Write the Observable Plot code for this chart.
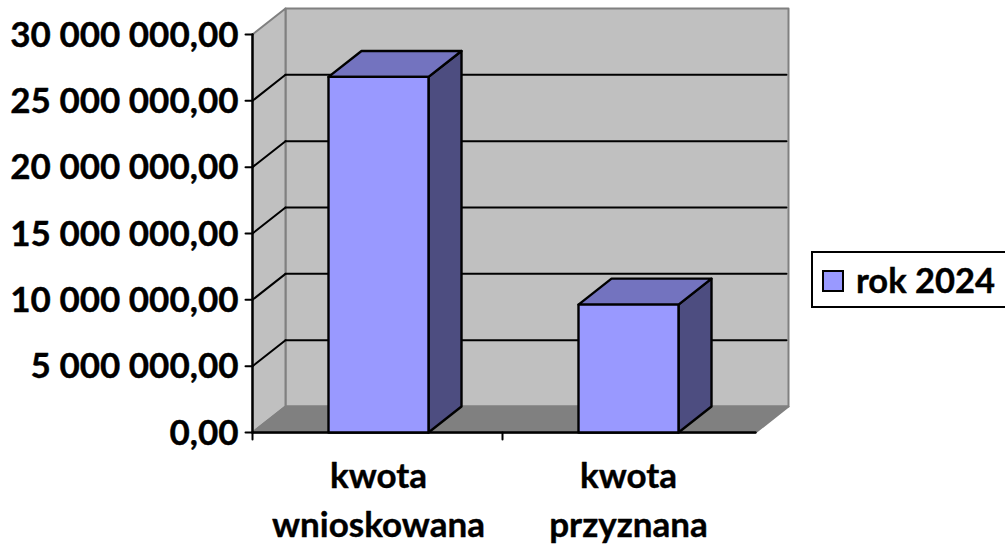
<!DOCTYPE html>
<html><head><meta charset="utf-8">
<script src="https://cdn.jsdelivr.net/npm/d3@7"></script>
<script src="https://cdn.jsdelivr.net/npm/@observablehq/plot@0.6"></script>
<style>
html,body{margin:0;padding:0;background:#fff;overflow:hidden}
#wrap{position:relative;width:1005px;height:550px}
#legend{position:absolute;left:811px;top:251px;width:210px;height:57px;border:2px solid #000;box-sizing:border-box;background:#fff;font:700 34.5px Lato,sans-serif;color:#000;-webkit-text-stroke:0.4px #000}
#legend i{position:absolute;left:9px;top:17px;width:22px;height:22px;background:#9999ff;border:2px solid #000;box-sizing:border-box}
#legend span{position:absolute;left:43px;top:9px;line-height:36px;white-space:nowrap}
</style></head><body>
<div id="wrap"><div id="chart"></div><div id="legend"><i></i><span>rok 2024</span></div></div>
<script>
const categories = ["kwota\nwnioskowana", "kwota\nprzyznana"];
const categoryPositions = [0.504, 1.504];
const values = [26800000, 9640000];
const yTicks = [0, 5000000, 10000000, 15000000, 20000000, 25000000, 30000000];
const gridValues = [5000000, 10000000, 15000000, 20000000, 25000000];
const xTicks = [0, 1];

// oblique depth of the pseudo-3D box, in data units
const depthX = 0.132, depthY = 1957000, barWidth = 0.4, xMax = 2.012, yMax = 30000000;
const tickX = 0.028, tickY = 527000;

const fmt = v => d3.format(",.2f")(v).replace(/,/g, " ").replace(".", ",");
const poly = (id, pts) => pts.map(([x, y]) => ({id, x, y}));

const floor = poly("f", [[0,0],[xMax,0],[xMax+depthX,depthY],[depthX,depthY]]);
const back = poly("b", [[depthX,depthY],[xMax+depthX,depthY],[xMax+depthX,yMax+depthY],[depthX,yMax+depthY]]);
const side = poly("s", [[0,0],[depthX,depthY],[depthX,yMax+depthY],[0,yMax]]);
const gridBack = gridValues.flatMap(v => poly("g"+v, [[depthX,v+depthY],[xMax+depthX-0.008,v+depthY]]));
const gridSide = gridValues.flatMap(v => poly("g"+v, [[0,v],[depthX,v+depthY]]));
const axisYLine = poly("ay", [[0,0],[0,yMax]]);
const axisXLine = poly("ax", [[0,0],[xMax,0]]);
const yTickLines = yTicks.flatMap(v => poly("t"+v, [[-tickX,v],[0,v]]));
const xTickLines = xTicks.flatMap(v => poly("x"+v, [[v,-tickY],[v,0]]));
const yLabels = yTicks.map(v => ({x:-tickX, y:v, label:fmt(v)}));
const xLabels = categories.map((label,i) => ({x:categoryPositions[i], y:0, label}));

const front = [], top_ = [], right = [];
values.forEach((v, i) => {
  const a = categoryPositions[i] - barWidth/2, b = categoryPositions[i] + barWidth/2;
  front.push(...poly(i, [[a,0],[b,0],[b,v],[a,v]]));
  top_.push(...poly(i, [[a,v],[b,v],[b+depthX,v+depthY],[a+depthX,v+depthY]]));
  right.push(...poly(i, [[b,0],[b+depthX,depthY],[b+depthX,v+depthY],[b,v]]));
});

const wall = {x:"x", y:"y", z:"id", curve:"linear-closed", strokeWidth:2};
const face = {x:"x", y:"y", z:"id", curve:"linear-closed", stroke:"#000", strokeWidth:2.4, strokeLinejoin:"round"};
const ln = {x:"x", y:"y", z:"id", stroke:"#000", strokeWidth:2};
const font = {fontFamily:"Lato, sans-serif", fontWeight:700, fontSize:35, fill:"#000", stroke:"#000", strokeWidth:0.4};

const plot = Plot.plot({
  width:1005, height:550, margin:0,
  style:{background:"transparent", overflow:"visible"},
  x:{domain:[0,xMax+depthX], range:[252,788], axis:null},
  y:{domain:[0,yMax+depthY], range:[432,8], axis:null},
  marks:[
    Plot.line(back, {...wall, fill:"#c0c0c0", stroke:"#808080"}),
    Plot.line(side, {...wall, fill:"#c0c0c0", stroke:"#808080"}),
    Plot.line(floor, {...wall, fill:"#808080", stroke:"#808080"}),
    Plot.line(gridBack, ln),
    Plot.line(gridSide, ln),
    Plot.line(axisYLine, {...ln, strokeWidth:2.4}),
    Plot.line(axisXLine, {...ln, strokeWidth:2.4}),
    Plot.line(yTickLines, ln),
    Plot.line(xTickLines, ln),
    Plot.line(right, {...face, fill:"#4d4d80"}),
    Plot.line(top_, {...face, fill:"#7373bf"}),
    Plot.line(front, {...face, fill:"#9999ff"}),
    Plot.text(yLabels, {x:"x", y:"y", text:"label", textAnchor:"end", dx:-7, dy:1, ...font}),
    Plot.text(xLabels, {x:"x", y:"y", text:"label", dy:20, lineAnchor:"top", lineHeight:1.42, ...font})
  ]
});
document.getElementById("chart").appendChild(plot);
</script>
</body></html>
